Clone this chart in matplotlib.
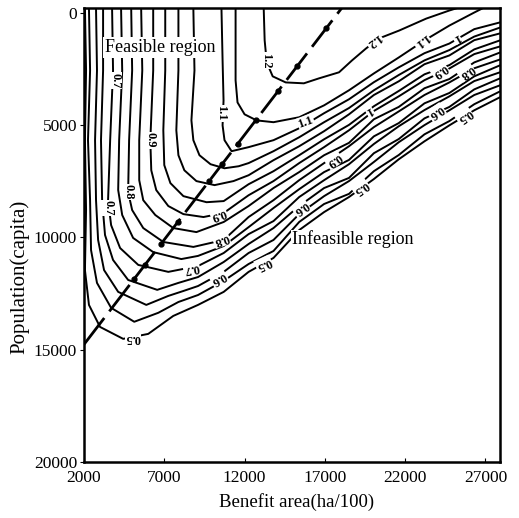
import matplotlib
matplotlib.use("Agg")
import matplotlib.pyplot as plt

plt.rcParams["font.family"] = ["Liberation Serif", "DejaVu Serif"]

# contour levels, the lowest one is the border of the feasible region
levels = [0.5, 0.55, 0.6, 0.65, 0.7, 0.75, 0.8, 0.85, 0.9, 0.95, 1.0, 1.05, 1.1, 1.15, 1.2]

# upper-left part of each contour: from the top edge down and round the bend
left_x = [
    [2060, 2130, 2060, 2130, 2060, 2310, 3000, 4440, 6000, 7560],
    [2310, 2380, 2250, 2380, 2440, 2810, 3690, 5130, 6630, 7880],
    [2750, 2810, 2690, 2750, 2880, 3250, 4130, 5880, 7250, 8190],
    [3190, 3190, 3060, 3130, 3310, 3810, 4750, 6560, 7880],
    [3750, 3810, 3630, 3500, 3690, 4250, 5380, 7250],
    [4310, 4380, 4190, 4130, 4380, 5060, 6310, 8060],
    [4940, 5000, 4810, 4750, 5000, 5690, 6940, 8810],
    [5560, 5630, 5440, 5440, 5690, 6440, 7560, 9000],
    [6310, 6310, 6130, 6190, 6500, 7250, 8190, 9440],
    [7060, 7060, 6940, 7000, 7380, 8190, 9630],
    [7880, 7880, 7750, 7880, 8250, 9000, 10130, 11310],
    [8810, 8880, 8690, 8810, 9190, 9880, 10750, 11630],
    [10560, 10630, 10690, 10630, 10750, 11190],
    [11440, 11440, 11560, 12000, 12750],
    [13190, 13250, 13380, 13750, 14560, 15690, 16630, 17880, 18690, 19560,
     20380, 21630, 23310, 24750, 25250],
]
left_y = [
    [-200, 2580, 5680, 8790, 11460, 13010, 13990, 14520, 14300, 13500],
    [-200, 2580, 5680, 8350, 10570, 12030, 13140, 13760, 13360, 12880],
    [-200, 2580, 5680, 8350, 10120, 11460, 12430, 13010, 12610, 12390],
    [-200, 2580, 5680, 8350, 9900, 11010, 11900, 12340, 12030],
    [-200, 2580, 5680, 8350, 9460, 10480, 11230, 11540],
    [-200, 2580, 5680, 7900, 9010, 10030, 10660, 10970],
    [-200, 2580, 5680, 7990, 8790, 9590, 10210, 10430],
    [-200, 2580, 5680, 7460, 8350, 9010, 9590, 9770],
    [-200, 2580, 5680, 7020, 7900, 8610, 8970, 9100],
    [-200, 2580, 5240, 6790, 7590, 8170, 8440],
    [-200, 2580, 5240, 6350, 7020, 7500, 7680, 7500],
    [-200, 2580, 4800, 5680, 6350, 6750, 6930, 6840],
    [-200, 2130, 3910, 5020, 5680, 6170],
    [-200, 3020, 4000, 4530, 4800],
    [-200, 1240, 2220, 2840, 3110, 3150, 2930, 2660, 2130, 1600,
     1150, 800, 270, -90, -200],
]

# diagonal band towards the infeasible region (None = contour not there)
N = None
band_x = [9100, 10700, 12250, 13800, 15400, 16950, 18500, 20050, 21600, 23200, 24750, 26300, 27900]
band_y = [
    [13010, 12430, 11540, 10920, 9680, 8880, 8210, 7410, 6530, 5730, 5020, 4350, 3770],
    [12570, 11940, 11190, 10610, 9320, 8520, 8070, 7060, 6340, 5420, 4830, 4080, 3510],
    [12170, 11540, 10700, 10120, 8970, 8170, 7500, 6650, 5770, 5010, 4350, 3670, 3240],
    [11770, 11100, 10300, 9590, 8610, 7810, 7360, 6260, 5630, 4710, 4200, 3420, 2930],
    [11280, 10700, 9860, 9280, 8210, 7460, 6750, 5850, 5060, 4340, 3730, 3050, 2660],
    [10830, 10390, 9550, 8700, 7860, 7100, 6560, 5510, 4920, 4040, 3580, 2840, 2350],
    [N, 10120, 9100, 8350, 7460, 6700, 5950, 5100, 4400, 3670, 3110, 2480, 2090],
    [N, 9320, 8610, 7810, 7100, 6350, 5800, 4750, 4200, 3370, 2960, 2220, 1780],
    [N, 8920, 8130, 7500, 6700, 5990, 5240, 4380, 3730, 3010, 2490, 1850, 1510],
    [N, 8390, 7640, 7060, 6350, 5640, 5000, 4170, 3490, 2750, 2340, 1640, 1240],
    [N, N, 7240, 6570, 5950, 5280, 4530, 3670, 3060, 2300, 1910, 1230, 930],
    [N, N, 6700, 6170, 5550, 4880, 4250, 3460, 2780, 2130, 1670, 1070, 670],
    [N, N, 5990, 5680, 5150, 4480, 3860, 3100, 2440, 1810, 1380, 740, 440],
    [N, N, N, 4880, 4660, 4130, 3460, 2710, 2000, 1240, 580, 0, -580],
    [N] * 13,
]

# contour labels as printed on the chart
label_text = ["0.7", "0.9", "0.8", "0.7", "1.1", "1.2", "1.1", "1.2", "1.1", "1", "1",
              "0.9", "0.8", "0.7", "0.6", "0.5", "0.5", "0.6", "0.9", "0.5",
              "0.9", "0.8", "0.6", "0.5"]
label_x = [3940, 6130, 4750, 3500, 10560, 13310, 15810, 20060, 23000, 25190, 19750,
           10380, 10560, 8690, 10380, 5060, 13190, 15500, 17560, 19250,
           24130, 25810, 23940, 25690]
label_y = [3020, 5680, 7990, 8700, 4480, 2130, 4880, 1240, 1240, 1110, 4350,
           8970, 10120, 11370, 11810, 14470, 11190, 8700, 6570, 7810,
           2580, 2660, 4440, 4620]
label_rot = [-90, -90, -90, -90, -90, -90, 20, 217, 217, 210, 210,
             200, 200, 190, 210, 180, 205, 215, 215, 215,
             215, 215, 215, 215]

# ridge line of best solutions and its dots
ridge_x = [2000, 18050]
ridge_y = [14770, -200]
dot_x = [17085, 15262, 14083, 12689, 11563, 10598, 9794, 7864, 6792, 5773, 5130]
dot_y = [700, 2400, 3500, 4800, 5850, 6750, 7500, 9300, 10300, 11250, 11850]

x_ticks = [2000, 7000, 12000, 17000, 22000, 27000]
y_ticks = [0, 5000, 10000, 15000, 20000]

fig = plt.figure(figsize=(5.19, 5.18), dpi=100)
ax = fig.add_axes([0.1618, 0.1081, 0.8015, 0.8764])

for k in range(len(levels)):
    xs = list(left_x[k])
    ys = list(left_y[k])
    for bx, by in zip(band_x, band_y[k]):
        if by is not None:
            xs.append(bx)
            ys.append(by)
    ax.plot(xs, ys, color="black", lw=1.4, solid_joinstyle="round",
            solid_capstyle="round", zorder=2)

for s, x, y, r in zip(label_text, label_x, label_y, label_rot):
    ax.text(x, y, s, rotation=r, rotation_mode="anchor", ha="center", va="center",
            fontsize=9, fontweight="bold", zorder=3,
            bbox=dict(boxstyle="square,pad=0.05", fc="white", ec="none"))

ax.plot(ridge_x, ridge_y, color="black", lw=2.0, linestyle=(0, (12, 3)), zorder=4)
ax.plot(dot_x, dot_y, "o", color="black", ms=3.5, zorder=4)

ax.text(6750, 1550, "Feasible region", fontsize=13, ha="center", va="center", zorder=3,
        bbox=dict(boxstyle="square,pad=0.1", fc="white", ec="none"))
ax.text(14940, 10100, "Infeasible region", fontsize=13, ha="left", va="center", zorder=3,
        bbox=dict(boxstyle="square,pad=0.05", fc="white", ec="none"))

ax.set_xlim(2000, 27900)
ax.set_ylim(20000, -200)
ax.set_xticks(x_ticks)
ax.set_yticks(y_ticks)
ax.tick_params(axis="x", direction="in", length=3, labelsize=12.5, pad=6)
ax.tick_params(axis="y", direction="out", length=3, labelsize=12.5, pad=2)
for sp in ax.spines.values():
    sp.set_linewidth(1.8)

fig.text(0.572, 0.031, "Benefit area(ha/100)", fontsize=13.5, ha="center", va="center")
fig.text(0.037, 0.465, "Population(capita)", fontsize=15, rotation=90,
         ha="center", va="center")

fig.savefig("out.png", dpi=100)
